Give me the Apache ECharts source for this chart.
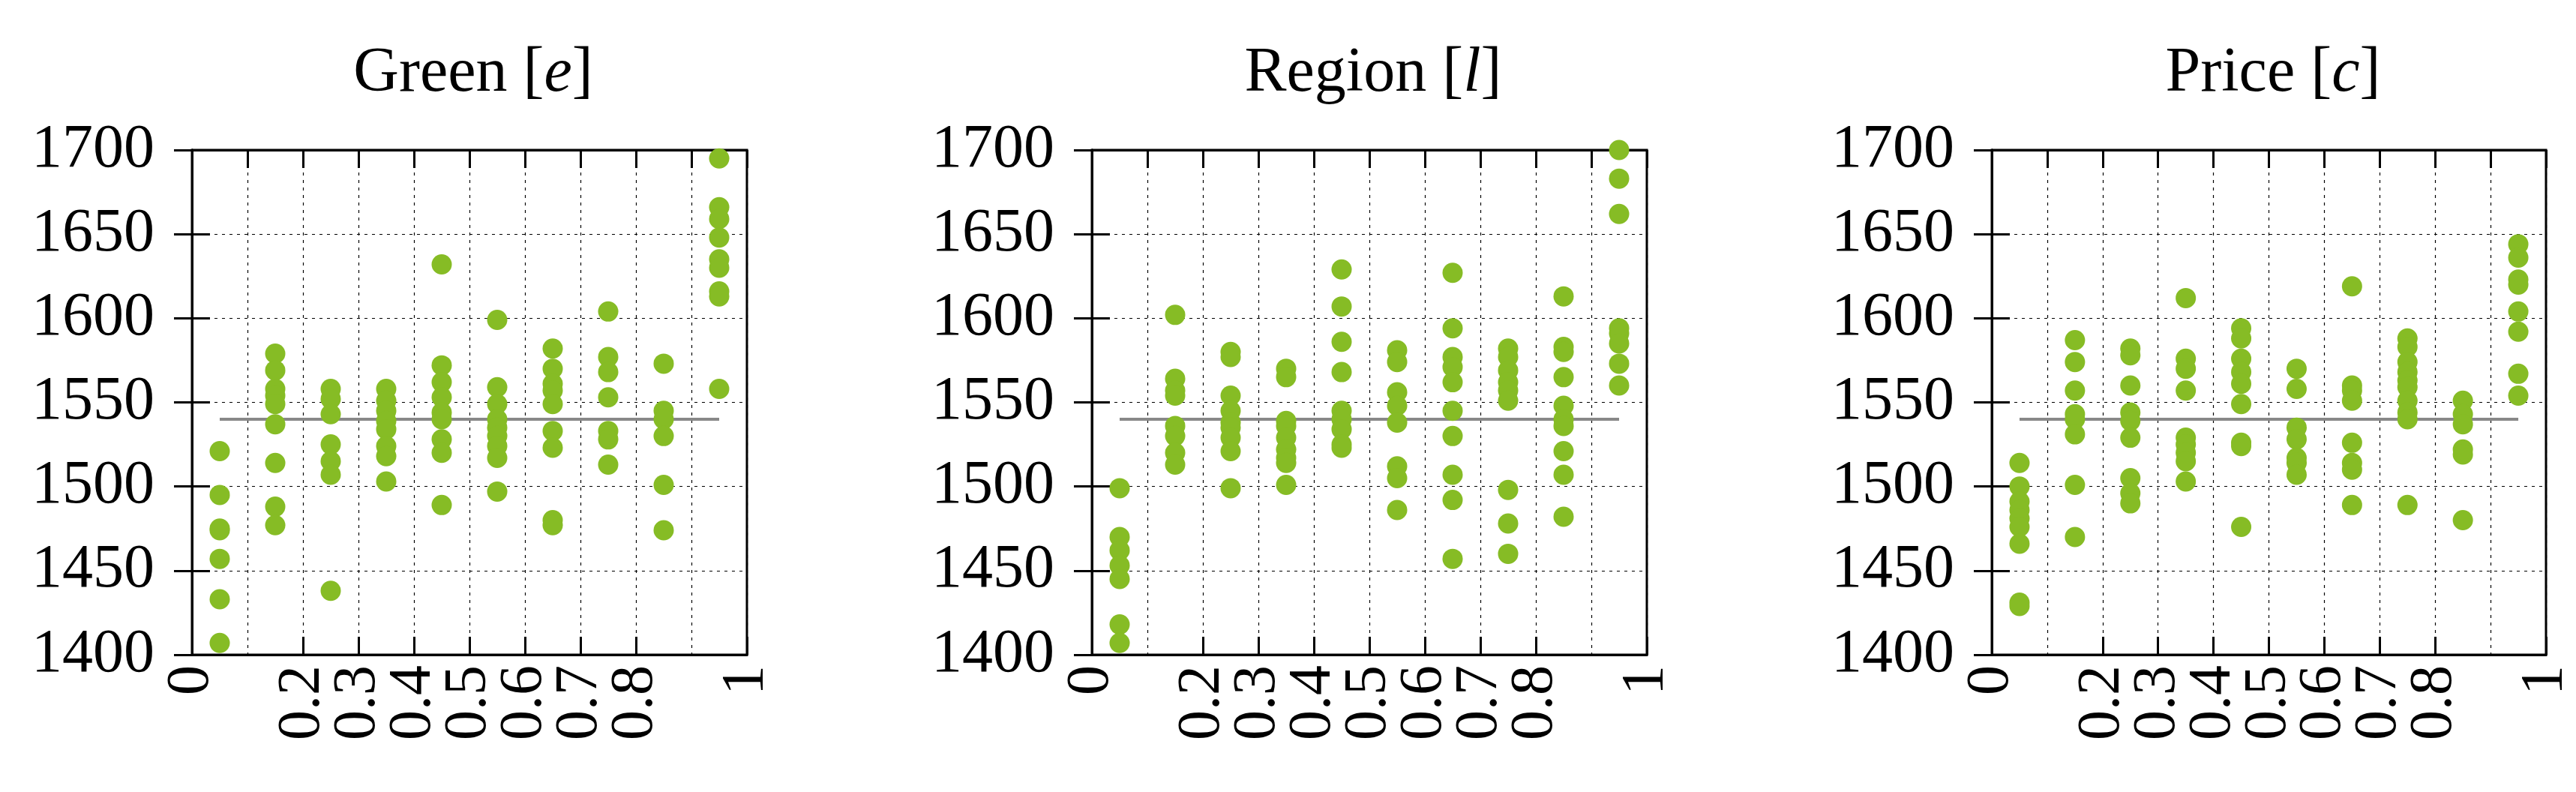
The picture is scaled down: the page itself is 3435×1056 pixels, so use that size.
<!DOCTYPE html>
<html><head><meta charset="utf-8">
<script src="https://cdn.jsdelivr.net/npm/echarts@6/dist/echarts.min.js"></script>
<style>html,body{margin:0;padding:0;background:#fff}#c{width:3435px;height:1056px}</style>
</head><body><div id="c"></div>
<script>
const xPositions = [0.05,0.15,0.25,0.35,0.45,0.55,0.65,0.75,0.85,0.95];
const xTickLabels = ['0','0.1','0.2','0.3','0.4','0.5','0.6','0.7','0.8','0.9','1'];
const yTicks = [1400,1450,1500,1550,1600,1650,1700];
const titles = [['Green','e'],['Region','l'],['Price','c']];
const baseline = 1540;
const greenValues = [
 [1521,1495,1475,1474,1457,1433,1407],
 [1579,1569,1558,1554,1549,1537,1514,1488,1477],
 [1558,1552,1543,1525,1515,1507,1438],
 [1558,1551,1545,1539,1534,1524,1518,1503],
 [1632,1572,1562,1553,1544,1540,1528,1520,1489],
 [1599,1559,1549,1540,1535,1530,1524,1517,1497],
 [1582,1570,1561,1557,1549,1533,1523,1480,1477],
 [1604,1577,1568,1553,1533,1528,1513],
 [1573,1545,1540,1530,1501,1474],
 [1695,1666,1659,1648,1635,1630,1616,1613,1558]
];
const regionValues = [
 [1499,1470,1462,1453,1445,1418,1407],
 [1602,1564,1557,1554,1536,1530,1520,1513],
 [1580,1577,1554,1545,1538,1535,1529,1521,1499],
 [1570,1565,1539,1536,1529,1522,1517,1514,1501],
 [1629,1607,1586,1568,1545,1540,1534,1525,1523],
 [1581,1574,1556,1548,1538,1512,1505,1486],
 [1627,1594,1577,1571,1562,1545,1530,1507,1492,1457],
 [1582,1577,1569,1562,1557,1551,1498,1478,1460],
 [1613,1583,1580,1565,1548,1540,1536,1521,1507,1482],
 [1700,1683,1662,1594,1591,1585,1573,1560]
];
const priceValues = [
 [1514,1500,1491,1486,1481,1476,1466,1431,1429],
 [1587,1574,1557,1543,1540,1531,1501,1470],
 [1582,1578,1560,1544,1539,1529,1505,1496,1490],
 [1612,1576,1570,1557,1529,1525,1520,1515,1503],
 [1594,1588,1576,1568,1561,1549,1526,1524,1476],
 [1570,1558,1535,1528,1517,1514,1507],
 [1619,1560,1557,1551,1526,1514,1510,1489],
 [1588,1583,1574,1568,1563,1559,1551,1544,1540,1489],
 [1551,1543,1537,1522,1519,1480],
 [1644,1636,1623,1620,1604,1592,1567,1554]
];
const panels = [greenValues, regionValues, priceValues];
const lefts = [256,1456,2656];
const W = 740, TOP = 200, H = 673;
const FONT = "'Liberation Serif', 'DejaVu Serif', serif";
const grid=[], xAxis=[], yAxis=[], series=[], title=[];
panels.forEach((vals, i) => {
  grid.push({left: lefts[i], top: TOP, width: W, height: H, show: true, borderColor:'#000', borderWidth:3});
  const axLine = {show:true, lineStyle:{color:'#000', width:3}};
  const tick = {show:true, inside:true, length:24, lineStyle:{color:'#000', width:3}};
  xAxis.push({type:'value', gridIndex:i, min:0, max:1, interval:0.1, position:'bottom',
    axisLine:axLine, axisTick:tick,
    splitLine:{show:true, lineStyle:{color:'#000', type:[4,6], width:1.2}},
    axisLabel:{rotate:90, fontFamily:FONT, fontSize:80, color:'#000', margin:14, showMinLabel:true, showMaxLabel:true,
      formatter:(v)=>xTickLabels[Math.round(v*10)]}});
  xAxis.push({type:'value', gridIndex:i, min:0, max:1, interval:0.1, position:'top',
    axisLine:axLine, axisTick:tick, splitLine:{show:false}, axisLabel:{show:false}});
  yAxis.push({type:'value', gridIndex:i, min:yTicks[0], max:yTicks[yTicks.length-1], interval:50, position:'left',
    axisLine:axLine, axisTick:tick,
    splitLine:{show:true, lineStyle:{color:'#000', type:[4,6], width:1.2}},
    axisLabel:{fontFamily:FONT, fontSize:82, color:'#000', margin:50, showMinLabel:true, showMaxLabel:true,
      formatter:(v)=>String(v)}});
  yAxis.push({type:'value', gridIndex:i, min:yTicks[0], max:yTicks[yTicks.length-1], interval:50, position:'right',
    axisLine:axLine, axisTick:tick, splitLine:{show:false}, axisLabel:{show:false}});
  const pts=[];
  vals.forEach((col,j)=>col.forEach(v=>pts.push([xPositions[j], v])));
  series.push({type:'line', xAxisIndex:2*i, yAxisIndex:2*i, data:[[xPositions[0],baseline],[xPositions[9],baseline]],
    symbol:'none', lineStyle:{color:'#888', width:4}, silent:true, z:1});
  series.push({type:'scatter', xAxisIndex:2*i, yAxisIndex:2*i, data:pts, symbolSize:27,
    itemStyle:{color:'#86bc25', opacity:1}, z:3});
  const st = {fontFamily:FONT,fontSize:84,fontWeight:'normal',color:'#000'};
  title.push({text:'{n|'+titles[i][0]+' [}{i|'+titles[i][1]+'}{n|]}', left: lefts[i]+W/2, top: 52, textAlign:'center',
    textStyle:{fontWeight:'normal', rich:{n:st, i:Object.assign({}, st, {fontStyle:'italic'})}}});
});
const chart = echarts.init(document.getElementById('c'), null, {renderer:'canvas'});
chart.setOption({animation:false, backgroundColor:'#fff', title, grid, xAxis, yAxis, series});
</script></body></html>
